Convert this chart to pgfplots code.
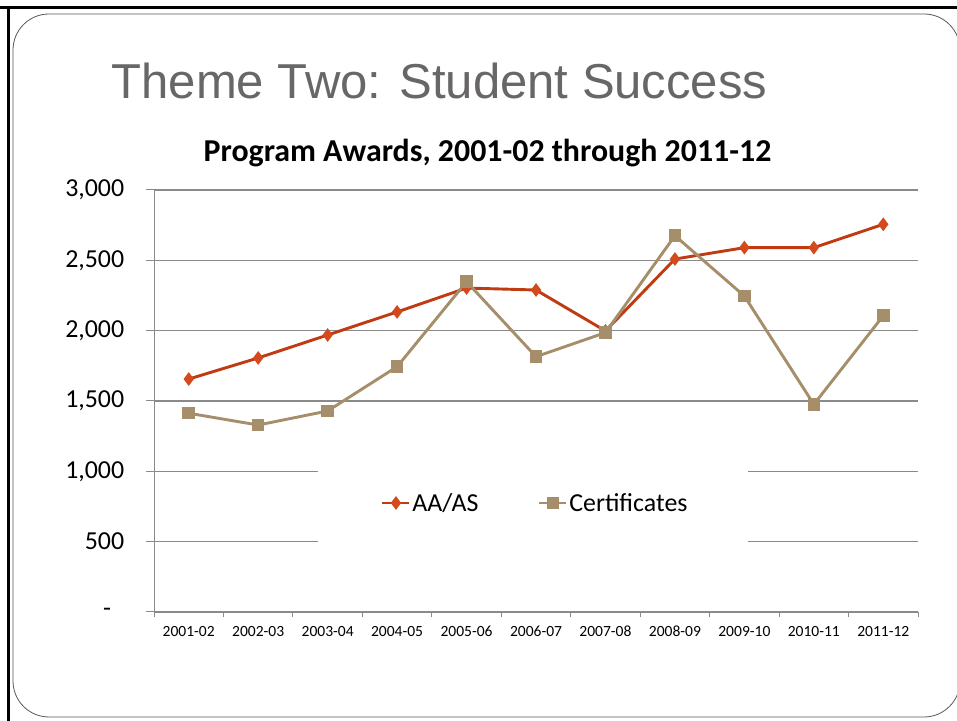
\documentclass[border=0pt]{standalone}
\usepackage{pgfplots}
\pgfplotsset{compat=1.18}
\usepackage{fontspec}
\setmainfont{Carlito}
\newfontfamily\slidefont{Liberation Sans}
\definecolor{aaline}{RGB}{192,58,18}
\definecolor{aamark}{RGB}{212,74,28}
\definecolor{cert}{RGB}{166,142,106}
\definecolor{gridgray}{RGB}{138,138,138}
\definecolor{titlegray}{RGB}{104,102,102}
\begin{document}
\begin{tikzpicture}[x=1bp,y=1bp]
\useasboundingbox (0,0) rectangle (957,721);
\fill[white] (0,0) rectangle (957,721);
% slide frame
\draw[black, line width=3bp] (0,713) -- (957,713);
\draw[black, line width=3bp] (8,0) -- (8,714.5);
\draw[black!65, line width=0.8bp, rounded corners=36bp] (13,4) rectangle (960,707);
\node[anchor=base, text=titlegray, font=\slidefont\fontsize{49.2}{58}\selectfont, inner sep=0] at (439.5,622) {Theme Two: Student Success};
\node[anchor=base, font=\bfseries\fontsize{32}{38}\selectfont, inner sep=0] at (487.5,559) {Program Awards, 2001-02 through 2011-12};
\begin{axis}[
    at={(154bp,109bp)}, anchor=south west,
    scale only axis, width=764bp, height=422bp,
    xmin=-0.5, xmax=10.5, ymin=0, ymax=3000,
    axis x line=bottom, axis y line=left,
    axis line style={gridgray, line width=1bp, -},
    xtick={-0.5,0.5,1.5,2.5,3.5,4.5,5.5,6.5,7.5,8.5,9.5,10.5},
    x tick label as interval,
    xticklabels={2001-02,2002-03,2003-04,2004-05,2005-06,2006-07,2007-08,2008-09,2009-10,2010-11,2011-12},
    ytick={0,500,1000,1500,2000,2500,3000},
    yticklabels={{\makebox[21bp][l]{-}},500,{1,000},{1,500},{2,000},{2,500},{3,000}},
    tick align=outside,
    xtick style={gridgray, line width=1bp, /pgfplots/major tick length=5bp},
    ytick style={gridgray, line width=1bp, /pgfplots/major tick length=8bp},
    ymajorgrids, major grid style={gridgray, line width=1.2bp},
    xticklabel style={font=\fontsize{15.6}{18}\selectfont, text height=11bp, text depth=3bp, yshift=-6bp},
    yticklabel style={font=\fontsize{26}{30}\selectfont, xshift=-22bp},
    legend columns=2,
    legend style={at={(0.4987,0.2583)}, anchor=center, draw=none, fill=none,
        font=\fontsize{26}{30}\selectfont, nodes={inner xsep=1.5bp},
        /tikz/every even column/.append style={column sep=58bp}},
    legend cell align=left,
    legend image code/.code={\draw[mark repeat=2,mark phase=2] plot coordinates {(0bp,0bp)(13.5bp,0bp)(27bp,0bp)};},
]
\fill[white] (axis cs:1.86,430) rectangle (axis cs:8.05,1050);
\addplot[aaline, line width=2.9bp, mark=diamond*, mark size=4.5bp, mark options={fill=aamark, draw=aamark}] coordinates {
(0,1656) (1,1806) (2,1969) (3,2133) (4,2303) (5,2289) (6,1998) (7,2509) (8,2590) (9,2590) (10,2756)
};
\addlegendentry{AA/AS}
\addplot[cert, line width=2.9bp, mark=square*, mark size=4.8bp, mark options={fill=cert, draw=cert}] coordinates {
(0,1413) (1,1329) (2,1429) (3,1744) (4,2348) (5,1815) (6,1986) (7,2675) (8,2246) (9,1476) (10,2106)
};
\addlegendentry{Certificates}
\end{axis}
\end{tikzpicture}
\end{document}
